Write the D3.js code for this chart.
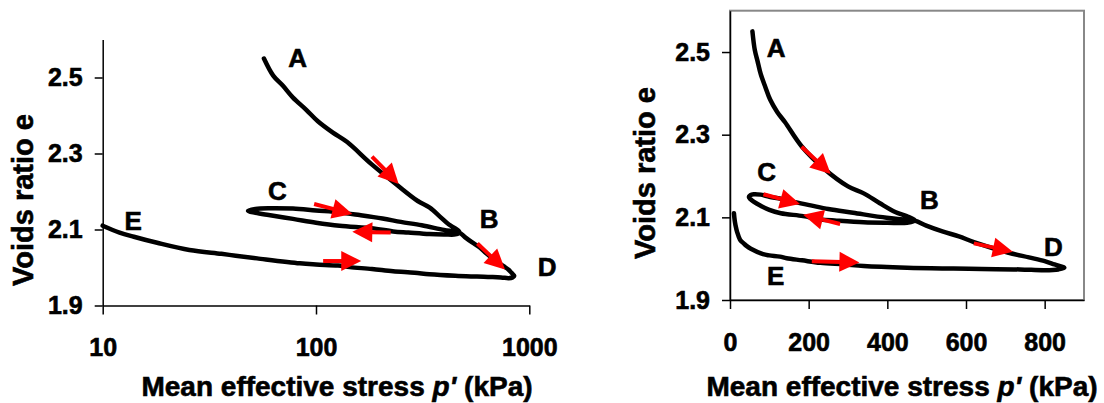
<!DOCTYPE html>
<html>
<head>
<meta charset="utf-8">
<script src="https://cdn.jsdelivr.net/npm/d3@7"></script>
<style>
  body { margin: 0; background: #fff; }
  text { font-family: "Liberation Sans", Arial, sans-serif; font-weight: bold; stroke: #000; stroke-width: 0.6px; }
</style>
</head>
<body>
<div id="chart"></div>
<script>
// stress path A -> B -> C -> B -> D -> E, mean effective stress p' (kPa)
var pValues = [57, 63, 70, 78, 90, 102, 120, 140, 182, 240, 300, 340, 381, 420, 449, 470,
               450, 400, 340, 271, 230, 186, 129, 100, 78, 60, 52, 48,
               52, 60, 78, 100, 129, 160, 205, 250, 313, 398, 440, 470,
               499, 540, 582, 620, 706, 760, 800, 825, 850,
               835, 800, 737, 640, 568, 450, 340, 290, 230, 183, 144, 127, 100, 84, 53, 42, 36, 25.5, 18, 14, 12, 10];
// voids ratio e for each point
var eValues = [2.550, 2.505, 2.478, 2.447, 2.415, 2.385, 2.355, 2.330, 2.272, 2.217, 2.175, 2.158, 2.134, 2.113, 2.103, 2.093,
               2.087, 2.087, 2.088, 2.092, 2.095, 2.103, 2.110, 2.118, 2.128, 2.138, 2.144, 2.149,
               2.154, 2.156, 2.155, 2.150, 2.145, 2.138, 2.129, 2.120, 2.111, 2.099, 2.095, 2.092,
               2.080, 2.066, 2.054, 2.040, 2.015, 2.003, 1.994, 1.986, 1.978,
               1.974, 1.972, 1.974, 1.975, 1.976, 1.978, 1.982, 1.986, 1.990, 1.996, 2.001, 2.005, 2.008, 2.011, 2.024, 2.031, 2.036, 2.046, 2.065, 2.081, 2.092, 2.110];

var pointLabels = ["A", "B", "C", "D", "E"];
// label positions, log plot
var labelPLog = [82, 648, 66, 1213, 13.9];
var labelELog = [2.551, 2.128, 2.201, 2.002, 2.123];
// label positions, linear plot
var labelPLin = [117, 507, 93, 822, 116];
var labelELin = [2.510, 2.142, 2.210, 2.029, 1.958];

// arrows [tailP, tailE, tipP, tipE]
var arrowsLog = [[183, 2.292, 244, 2.220], [98, 2.167, 148, 2.141], [224, 2.092, 148, 2.094],
                 [571, 2.063, 769, 1.995], [108, 2.017, 163, 2.017]];
var arrowsLin = [[182, 2.271, 256, 2.205], [85, 2.156, 178, 2.132], [280, 2.084, 186, 2.106],
                 [620, 2.037, 719, 2.017], [208, 1.994, 329, 1.991]];

var eTicks = [1.9, 2.1, 2.3, 2.5];
var logTicks = [10, 100, 1000];
var linTicks = [0, 200, 400, 600, 800];

var data = pValues.map(function(p, i) { return {p: p, e: eValues[i]}; });

var svg = d3.select("#chart").append("svg")
  .attr("width", 1104)
  .attr("height", 403)
  .style("background", "#fff");

function drawPanel(x, y, opts) {
  var g = svg.append("g");

  if (opts.box) {
    g.append("rect")
      .attr("x", x.range()[0]).attr("y", y.range()[1])
      .attr("width", x.range()[1] - x.range()[0])
      .attr("height", y.range()[0] - y.range()[1])
      .attr("fill", "none").attr("stroke", "#888").attr("stroke-width", 2);
  }

  var yAxis = d3.axisLeft(y).tickValues(eTicks).tickFormat(d3.format(".1f"))
    .tickSize(8).tickSizeOuter(0).tickPadding(12);
  var xAxis = d3.axisBottom(x).tickValues(opts.xTicks).tickFormat(d3.format("d"))
    .tickSize(9).tickSizeOuter(0).tickPadding(24);

  var ya = g.append("g").attr("transform", "translate(" + x.range()[0] + ",0)").call(yAxis);
  var xa = g.append("g").attr("transform", "translate(0," + y.range()[0] + ")").call(xAxis);
  [ya, xa].forEach(function(a) {
    a.selectAll("path, line").attr("stroke", "#000").attr("stroke-width", 1.5);
    a.selectAll("text").attr("fill", "#000").style("font-size", "25px")
      .style("font-family", "'Liberation Sans', Arial");
  });

  // the path
  var line = d3.line()
    .x(function(d) { return x(d.p); })
    .y(function(d) { return y(d.e); })
    .curve(d3.curveCatmullRom.alpha(0.5));
  g.append("path")
    .datum(data)
    .attr("d", line)
    .attr("fill", "none")
    .attr("stroke", "#000")
    .attr("stroke-width", 4.5)
    .attr("stroke-linejoin", "round")
    .attr("stroke-linecap", "round");

  // red arrows
  opts.arrows.forEach(function(a) {
    var x1 = x(a[0]), y1 = y(a[1]), x2 = x(a[2]), y2 = y(a[3]);
    var dx = x2 - x1, dy = y2 - y1, len = Math.sqrt(dx * dx + dy * dy);
    var ux = dx / len, uy = dy / len, nx = -uy, ny = ux;
    var L = 20, W = 10;
    var bx = x2 - ux * L, by = y2 - uy * L;
    g.append("line")
      .attr("x1", x1).attr("y1", y1)
      .attr("x2", bx + ux * 2).attr("y2", by + uy * 2)
      .attr("stroke", "#f00").attr("stroke-width", 4);
    g.append("path")
      .attr("d", "M" + x2 + "," + y2 + "L" + (bx + nx * W) + "," + (by + ny * W) +
                 "L" + (bx - nx * W) + "," + (by - ny * W) + "Z")
      .attr("fill", "#f00");
  });

  // point labels
  g.selectAll(".pt")
    .data(pointLabels)
    .enter().append("text")
      .attr("class", "pt")
      .attr("x", function(d, i) { return x(opts.labelP[i]); })
      .attr("y", function(d, i) { return y(opts.labelE[i]); })
      .attr("dy", "0.36em")
      .attr("text-anchor", "middle")
      .style("font-size", "26px")
      .text(function(d) { return d; });

  // axis titles
  g.append("text")
    .attr("transform", "translate(" + opts.yTitleX + "," + opts.yTitleY + ") rotate(-90)")
    .attr("text-anchor", "middle")
    .style("font-size", "29px")
    .text("Voids ratio e");

  var xt = g.append("text")
    .attr("x", opts.xTitleX)
    .attr("y", 396)
    .attr("text-anchor", "middle")
    .style("font-size", "28px");
  xt.append("tspan").text("Mean effective stress ");
  xt.append("tspan").style("font-style", "italic").text("p'");
  xt.append("tspan").text(" (kPa)");
}

var xLog = d3.scaleLog().domain([10, 1000]).range([102.7, 529.3]);
var yLeft = d3.scaleLinear().domain([1.9, 2.6]).range([305.5, 39.5]);
drawPanel(xLog, yLeft, {
  xTicks: logTicks, arrows: arrowsLog, labelP: labelPLog, labelE: labelELog,
  yTitleX: 33, yTitleY: 200, xTitleX: 337, box: false
});

var xLin = d3.scaleLinear().domain([0, 900]).range([730, 1084]);
var yRight = d3.scaleLinear().domain([1.9, 2.6]).range([300, 10.7]);
drawPanel(xLin, yRight, {
  xTicks: linTicks, arrows: arrowsLin, labelP: labelPLin, labelE: labelELin,
  yTitleX: 655, yTitleY: 173, xTitleX: 902, box: true
});
</script>
</body>
</html>
